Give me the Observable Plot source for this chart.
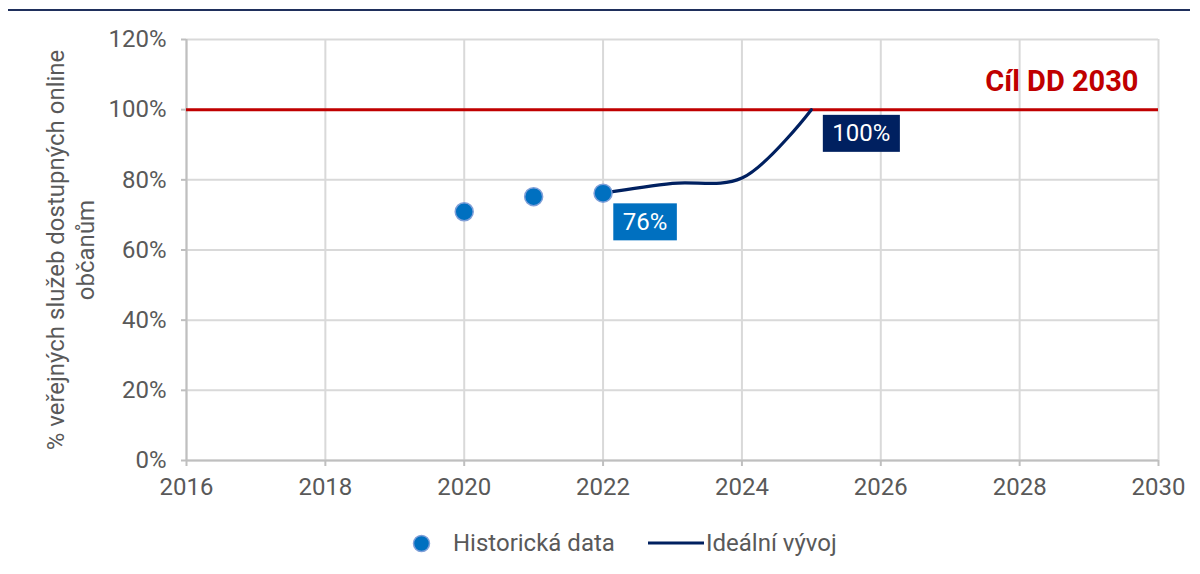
<!DOCTYPE html>
<html>
<head>
<meta charset="utf-8">
<script src="https://cdn.jsdelivr.net/npm/d3@7"></script>
<script src="https://cdn.jsdelivr.net/npm/@observablehq/plot@0.6"></script>
<style>
  body { margin: 0; background: #fff; font-family: Roboto, "Noto Sans", sans-serif; }
  #wrap { position: relative; width: 1200px; height: 574px; overflow: hidden; }
  #topline { position: absolute; left: 8px; top: 9px; width: 1182px; height: 2px; background: #1f2f5c; }
  #chart { position: absolute; left: 0; top: 0; }
  #legend { position: absolute; left: 0; top: 528px; width: 1200px; height: 30px; font-size: 24px; color: #595959; }
  .lg { position: absolute; top: 0; line-height: 30px; white-space: nowrap; }
</style>
</head>
<body>
<div id="wrap">
  <div id="topline"></div>
  <div id="chart"></div>
  <div id="legend"></div>
</div>
<script>
// ---- data ----
const histYears = [2020, 2021, 2022];
const histValues = [0.709, 0.752, 0.762];
const idealYears = [2022, 2023, 2024, 2025];
const idealValues = [0.762, 0.79, 0.805, 1.0];
const targetValue = 1.0;
const targetLabel = "Cíl DD 2030";
const xTicks = [2016, 2018, 2020, 2022, 2024, 2026, 2028, 2030];
const yTicks = [0, 0.2, 0.4, 0.6, 0.8, 1.0, 1.2];
const yTitle = "% veřejných služeb dostupných online\nobčanům";
const seriesNames = ["Historická data", "Ideální vývoj"];
const startLabel = {year: 2022, value: 0.762, text: "76%"};
const endLabel = {year: 2025, value: 1.0, text: "100%"};

const hist = histYears.map((y, i) => ({year: y, value: histValues[i]}));
const ideal = idealYears.map((y, i) => ({year: y, value: idealValues[i]}));

const gridColor = "#d9d9d9";
const axisColor = "#bfbfbf";
const textColor = "#595959";
const fs = 24;

const chart = Plot.plot({
  width: 1200,
  height: 520,
  marginTop: 39,
  marginBottom: 60,
  marginLeft: 186,
  marginRight: 42,
  style: {fontFamily: "Roboto, sans-serif", fontSize: fs + "px", color: textColor, background: "transparent"},
  x: {domain: [2016, 2030]},
  y: {domain: [0, 1.2]},
  marks: [
    Plot.gridX(xTicks, {stroke: gridColor, strokeOpacity: 1, strokeWidth: 2}),
    Plot.gridY(yTicks, {stroke: gridColor, strokeOpacity: 1, strokeWidth: 2}),
    Plot.ruleX([2016], {stroke: axisColor, strokeWidth: 2}),
    Plot.ruleY([0], {stroke: axisColor, strokeWidth: 2}),
    Plot.axisX(xTicks, {tickSize: 6, tickPadding: 11, tickFormat: d => String(d), stroke: axisColor, strokeWidth: 2, fill: textColor, fontSize: fs, label: null}),
    Plot.axisY(yTicks, {tickSize: 5, tickPadding: 15, tickFormat: d => Math.round(d * 100) + "%", stroke: axisColor, strokeWidth: 2, fill: textColor, fontSize: fs, label: null}),
    Plot.text([yTitle], {frameAnchor: "left", rotate: -90, dx: -117, lineAnchor: "middle", textAnchor: "middle", fontSize: fs, fill: textColor, text: d => d, lineHeight: 1.25}),
    Plot.ruleY([targetValue], {stroke: "#c00000", strokeWidth: 3}),
    Plot.text([targetLabel], {x: () => 2030, y: () => targetValue, text: d => d, textAnchor: "end", dx: -20, dy: -28, fill: "#c00000", fontSize: 29, fontWeight: "bold"}),
    Plot.line(ideal, {x: "year", y: "value", stroke: "#002060", strokeWidth: 3.2, curve: "catmull-rom"}),
    Plot.dot(hist, {x: "year", y: "value", r: 9, fill: "#0070c0", stroke: "#7f9fd8", strokeWidth: 1.5}),
    Plot.text([startLabel], {x: "year", y: "value", text: "text", dx: 42, dy: 29, fill: "white", fontSize: fs, textAnchor: "middle"}),
    Plot.text([endLabel], {x: "year", y: "value", text: "text", dx: 50, dy: 24, fill: "white", fontSize: fs, textAnchor: "middle"})
  ]
});
document.getElementById("chart").appendChild(chart);

// label background boxes (in order: start label, end label)
const boxColors = ["#0070c0", "#002060"];
const labelGroups = chart.querySelectorAll('g[aria-label="text"][fill="white"]');
labelGroups.forEach((g, i) => {
  g.querySelectorAll("text").forEach(t => {
    const b = t.getBBox();
    const r = document.createElementNS("http://www.w3.org/2000/svg", "rect");
    const padX = 9.5, padY = 4.5;
    r.setAttribute("x", b.x - padX);
    r.setAttribute("y", b.y - padY);
    r.setAttribute("width", b.width + 2 * padX);
    r.setAttribute("height", b.height + 2 * padY);
    r.setAttribute("fill", boxColors[i]);
    if (t.getAttribute("transform")) r.setAttribute("transform", t.getAttribute("transform"));
    t.parentNode.insertBefore(r, t);
  });
});

// legend
const lg = document.getElementById("legend");
lg.innerHTML = `
  <svg class="lg" style="left:412px;top:6px" width="19" height="19"><circle cx="9.5" cy="9.5" r="8" fill="#0070c0" stroke="#7f9fd8" stroke-width="1.5"/></svg>
  <div class="lg" style="left:453px">${seriesNames[0]}</div>
  <svg class="lg" style="left:648px;top:13px" width="56" height="4"><line x1="0" y1="2" x2="56" y2="2" stroke="#002060" stroke-width="3"/></svg>
  <div class="lg" style="left:706px">${seriesNames[1]}</div>`;
</script>
</body>
</html>
